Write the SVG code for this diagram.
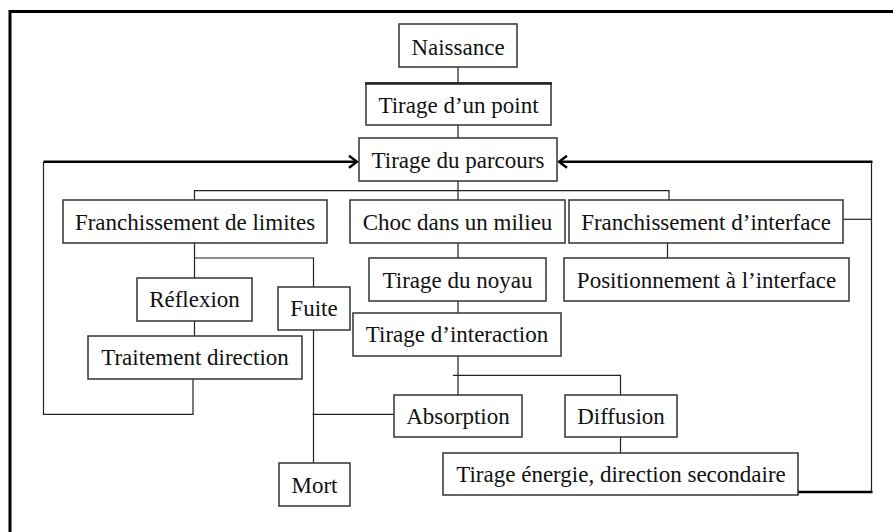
<svg xmlns="http://www.w3.org/2000/svg" width="893" height="532" viewBox="0 0 893 532">
<style>
.box rect{fill:#fff;stroke:#333;stroke-width:1.5}
.box text{font-family:"Liberation Serif","Times New Roman",serif;font-size:23px;fill:#111;text-anchor:middle}
.conn line,.conn polyline{stroke:#222;stroke-width:1.2;fill:none}
.conn .thick{stroke:#000;stroke-width:2.4}
</style>
<defs>
<marker id="chev" markerWidth="12" markerHeight="14" refX="10" refY="7" orient="auto" markerUnits="userSpaceOnUse">
<polyline points="2,1 10,7 2,13" fill="none" stroke="#000" stroke-width="2.4"/>
</marker>
</defs>
<rect width="893" height="532" fill="#fff"/>
<g id="frame">
<polyline points="10,532 10,11.5 893,11.5" fill="none" stroke="#000" stroke-width="3"/>
</g>
<g class="conn" id="connectors">
<line x1="458" y1="67" x2="458" y2="83"/>
<line x1="458" y1="125" x2="458" y2="138"/>
<line x1="458" y1="181" x2="458" y2="200"/>
<polyline points="194.5,200 194.5,190.7 669,190.7 669,200"/>
<line x1="458" y1="243" x2="458" y2="258"/>
<line x1="458" y1="301" x2="458" y2="313"/>
<line x1="667.5" y1="243" x2="667.5" y2="258"/>
<line x1="194.5" y1="243" x2="194.5" y2="278"/>
<polyline points="194.5,258 313.5,258 313.5,287"/>
<line x1="194.5" y1="321" x2="194.5" y2="336"/>
<polyline points="193,379 193,414.3 43.5,414.3 43.5,161.7"/>
<line class="thick" x1="43.5" y1="161.7" x2="357" y2="161.7" marker-end="url(#chev)"/>
<line x1="313.5" y1="330" x2="313.5" y2="463"/>
<line x1="312.5" y1="414.3" x2="394" y2="414.3"/>
<line x1="458" y1="356" x2="458" y2="395"/>
<polyline points="453,375.3 620.5,375.3 620.5,395"/>
<line x1="620.5" y1="437" x2="620.5" y2="453"/>
<line x1="843" y1="219.3" x2="871.5" y2="219.3"/>
<line x1="871.5" y1="161.7" x2="871.5" y2="492.5"/>
<line class="thick" x1="798" y1="492" x2="872.5" y2="492"/>
<line class="thick" x1="872.5" y1="161.7" x2="559" y2="161.7" marker-end="url(#chev)"/>
</g>
<g class="box" id="naissance"><rect x="399" y="24" width="118" height="43"/><text x="458" y="54.5">Naissance</text></g>
<g class="box" id="tirage-point"><rect x="366" y="83" width="185" height="42"/><line x1="365" y1="83.5" x2="552" y2="83.5" stroke="#222" stroke-width="2.6"/><text x="458.5" y="112.5">Tirage d’un point</text></g>
<g class="box" id="tirage-parcours"><rect x="359" y="138" width="198" height="43"/><text x="458" y="168">Tirage du parcours</text></g>
<g class="box" id="franchissement-limites"><rect x="63" y="200" width="264" height="43"/><text x="195" y="229.5">Franchissement de limites</text></g>
<g class="box" id="choc-milieu"><rect x="350" y="200" width="215" height="43"/><text x="457.5" y="229.5">Choc dans un milieu</text></g>
<g class="box" id="franchissement-interface"><rect x="569" y="200" width="274" height="43"/><text x="706" y="229.5">Franchissement d’interface</text></g>
<g class="box" id="tirage-noyau"><rect x="369" y="258" width="177" height="43"/><text x="457.5" y="287.5">Tirage du noyau</text></g>
<g class="box" id="positionnement-interface"><rect x="564" y="258" width="285" height="43"/><text x="706.5" y="287.5">Positionnement à l’interface</text></g>
<g class="box" id="reflexion"><rect x="137" y="278" width="115" height="43"/><text x="194.5" y="307">Réflexion</text></g>
<g class="box" id="fuite"><rect x="278" y="287" width="72" height="43"/><text x="314" y="316">Fuite</text></g>
<g class="box" id="tirage-interaction"><rect x="353" y="313" width="208" height="43"/><text x="457" y="342">Tirage d’interaction</text></g>
<g class="box" id="traitement-direction"><rect x="88" y="336" width="214" height="43"/><text x="195" y="365">Traitement direction</text></g>
<g class="box" id="absorption"><rect x="394" y="395" width="128" height="42"/><text x="458" y="424">Absorption</text></g>
<g class="box" id="diffusion"><rect x="565" y="395" width="112" height="42"/><text x="621" y="424">Diffusion</text></g>
<g class="box" id="mort"><rect x="279" y="463" width="71" height="43"/><text x="314.5" y="492.5">Mort</text></g>
<g class="box" id="tirage-energie"><rect x="443" y="453" width="355" height="42"/><text x="621" y="482">Tirage énergie, direction secondaire</text></g>
</svg>
